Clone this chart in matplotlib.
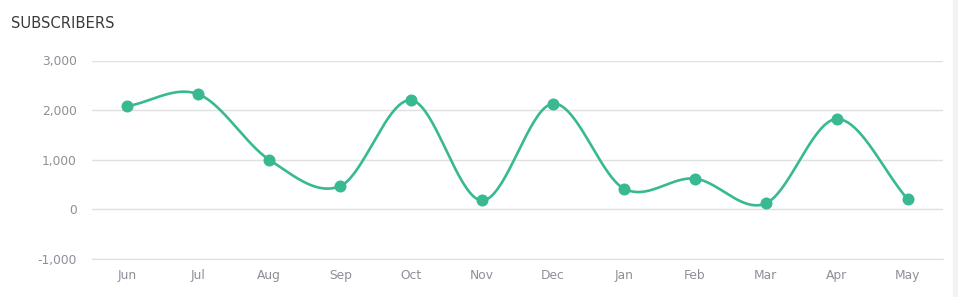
import numpy as np
import matplotlib
matplotlib.use("Agg")
import matplotlib.pyplot as plt
from matplotlib.patches import Rectangle

months = ["Jun", "Jul", "Aug", "Sep", "Oct", "Nov", "Dec", "Jan", "Feb", "Mar", "Apr", "May"]
subscribers = [2080, 2320, 1000, 470, 2200, 180, 2130, 420, 620, 120, 1820, 210]
yticks = [-1000, 0, 1000, 2000, 3000]
title = "SUBSCRIBERS"

color = "#38b992"

def catmull_rom(x, y, n=40):
    x = np.asarray(x, float); y = np.asarray(y, float)
    m = np.zeros_like(y)
    m[1:-1] = (y[2:] - y[:-2]) / 2.0
    m[0] = y[1] - y[0]
    m[-1] = y[-1] - y[-2]
    xs, ys = [], []
    for i in range(len(x) - 1):
        t = np.linspace(0, 1, n, endpoint=(i == len(x) - 2))
        h00 = 2*t**3 - 3*t**2 + 1
        h10 = t**3 - 2*t**2 + t
        h01 = -2*t**3 + 3*t**2
        h11 = t**3 - t**2
        xs.append(x[i] + t*(x[i+1]-x[i]))
        ys.append(h00*y[i] + h10*m[i] + h01*y[i+1] + h11*m[i+1])
    return np.concatenate(xs), np.concatenate(ys)

fig = plt.figure(figsize=(9.58, 2.97), dpi=100)
ax = fig.add_axes([92/958, 1-259/297, (943-92)/958, (259-60.5)/297])

x = np.arange(len(months))
sx, sy = catmull_rom(x, subscribers)
ax.plot(sx, sy, color=color, lw=1.9, solid_capstyle="round", zorder=3, clip_on=False)
ax.scatter(x, subscribers, s=75, color=color, zorder=4, clip_on=False, linewidths=0)

ax.set_xlim(-0.5, len(months) - 0.5)
ax.set_ylim(yticks[0], yticks[-1])
ax.set_yticks(yticks)
ax.set_yticklabels([f"{v:,}" for v in yticks])
ax.set_xticks(x)
ax.set_xticklabels(months)
ax.grid(axis="y", color="#e0e0e0", lw=1)
ax.set_axisbelow(True)
for s in ["top", "right", "left"]:
    ax.spines[s].set_visible(False)
ax.spines["bottom"].set_color("#e0e0e0")
ax.tick_params(axis="both", length=0, labelsize=8.8, colors="#8e8e98")
ax.tick_params(axis="y", pad=11)
ax.tick_params(axis="x", pad=7.5)
for lbl in ax.get_xticklabels() + ax.get_yticklabels():
    lbl.set_color("#8e8e98")

fig.text(11/958, 1-24/297, title, fontsize=10.6, color="#3a3a3a", va="center", ha="left")
fig.patches.append(Rectangle((953/958, 0), 5/958, 1, transform=fig.transFigure,
                             color="#f3f3f3", zorder=0))

fig.savefig("out.png", dpi=100)
